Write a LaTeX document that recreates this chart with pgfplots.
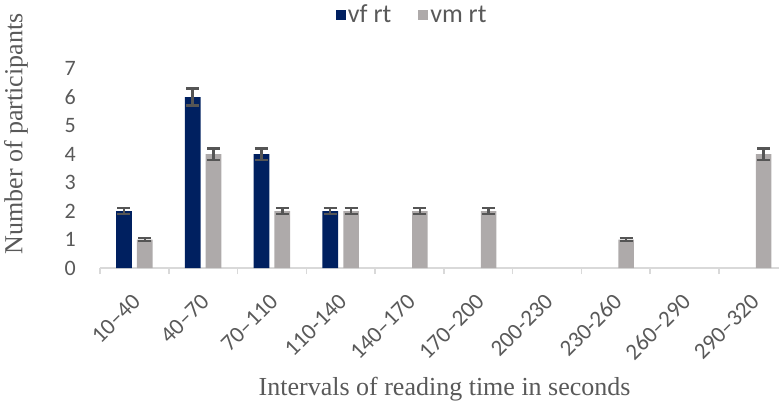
\documentclass[border=0pt]{standalone}
\usepackage{fontspec}
\setmainfont{Liberation Serif}
\newfontfamily\calfont{Carlito}
\usepackage{pgfplots}
\pgfplotsset{compat=1.18}
\definecolor{vfcol}{RGB}{0,32,96}
\definecolor{vmcol}{RGB}{174,170,170}
\definecolor{errcol}{RGB}{85,85,85}
\definecolor{txtgray}{RGB}{89,89,89}
\definecolor{axgray}{RGB}{217,217,217}
\begin{document}
\begin{tikzpicture}[x=1pt,y=1pt]
\useasboundingbox (0,0) rectangle (779,408);
\begin{axis}[
  at={(100pt,140pt)}, anchor=south west,
  scale only axis, width=679pt, height=199.5pt,
  xmin=-0.5, xmax=9.376, ymin=0, ymax=7,
  axis x line*=bottom, axis y line*=left,
  x axis line style={draw=axgray, line width=1.5pt, -},
  y axis line style={draw=none},
  /pgf/number format/assume math mode=true,
  ticklabel style={text=txtgray},
  ytick={0,1,...,7},
  ytick style={draw=none},
  major tick length=0pt,
  tick align=outside,
  xtick={0,1,...,9},
  xticklabels={10–40,40–70,70–110,110-140,140–170,170–200,200-230,230-260,260–290,290–320},
  xtick style={draw=axgray, line width=1.5pt},
  extra x ticks={-0.5,0.5,1.5,2.5,3.5,4.5,5.5,6.5,7.5,8.5},
  extra x tick labels={},
  extra x tick style={major tick length=6pt},
  yticklabel style={font=\calfont\fontsize{22}{24}\selectfont, inner sep=0pt, anchor=east},
  yticklabel shift=24pt,
  xticklabel style={font=\calfont\fontsize{23}{26}\selectfont, inner sep=0pt, rotate=45, anchor=east, xshift=3pt},
  xticklabel shift=32pt,
  xlabel={Intervals of reading time in seconds},
  xlabel style={font=\fontsize{26}{30}\selectfont, text=txtgray, inner sep=0pt, anchor=base, at={(axis description cs:0.5075,-0.637)}},
  ylabel={Number of participants},
  ylabel style={font=\fontsize{26}{30}\selectfont, text=txtgray, inner sep=0pt, anchor=south, at={(axis description cs:-0.106,0.672)}},
  legend columns=2,
  legend style={at={(axis description cs:0.347,1.33)}, anchor=north west, draw=none, fill=none, inner sep=0pt,
    font=\calfont\fontsize{26}{30}\selectfont, text=txtgray,
    /tikz/every even column/.append style={column sep=25pt}},
  legend cell align=left,
]
\addplot[ybar, bar width=0.228, bar shift=0, fill=vfcol, draw=none,
  legend image code/.code={\fill[vfcol] (0pt,-5pt) rectangle (10pt,5pt);},
  error bars/.cd, y dir=both, y explicit,
  error bar style={errcol, line width=2.4pt},
  error mark options={rotate=90, mark size=6.5pt, line width=2.4pt, errcol}]
  coordinates {(-0.152,2) +- (0,0.1) (0.848,6) +- (0,0.3) (1.848,4) +- (0,0.2) (2.848,2) +- (0,0.1)};
\addlegendentry{vf rt}
\addplot[ybar, bar width=0.228, bar shift=0, fill=vmcol, draw=none,
  legend image code/.code={\fill[vmcol] (0pt,-5pt) rectangle (10pt,5pt);},
  error bars/.cd, y dir=both, y explicit,
  error bar style={errcol, line width=2.4pt},
  error mark options={rotate=90, mark size=6.5pt, line width=2.4pt, errcol}]
  coordinates {(0.152,1) +- (0,0.05) (1.152,4) +- (0,0.2) (2.152,2) +- (0,0.1) (3.152,2) +- (0,0.1)
               (4.152,2) +- (0,0.1) (5.152,2) +- (0,0.1) (7.152,1) +- (0,0.05) (9.152,4) +- (0,0.2)};
\addlegendentry{vm rt}
\end{axis}
\end{tikzpicture}
\end{document}
